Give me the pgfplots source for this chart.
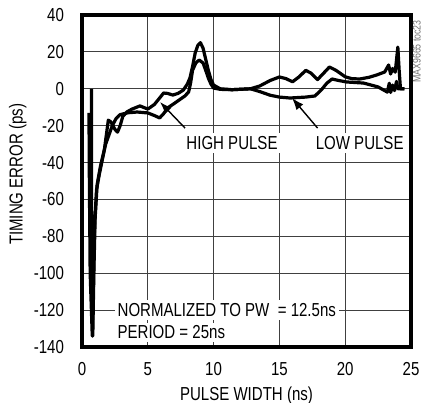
\documentclass[border=0pt]{standalone}
\usepackage{fontspec}
\setmainfont{Liberation Sans}[FakeStretch=0.8]
\usepackage{pgfplots}
\pgfplotsset{compat=1.18}
\usetikzlibrary{arrows.meta}

\begin{document}
\begin{tikzpicture}
\begin{axis}[
    scale only axis,
    width=164.5pt, height=166pt,
    xmin=0, xmax=25, ymin=-140, ymax=40,
    xtick={0,5,...,25},
    ytick={-140,-120,...,40},
    grid=major,
    grid style={black!75, line width=0.5pt},
    axis line style={line width=1.6pt},
    major tick length=0pt,
    /pgf/number format/assume math mode=true,
    tick label style={font=\fontsize{9.4}{11}\selectfont},
    xticklabel style={yshift=-4pt},
    yticklabel style={xshift=-5.5pt},
    label style={font=\fontsize{9.4}{11}\selectfont},
    xlabel={PULSE WIDTH (ns)},
    ylabel={TIMING ERROR (ps)},
    x label style={at={(axis description cs:0.5,-0.145)}, anchor=center},
    y label style={at={(axis description cs:-0.195,0.52)}, anchor=center},
    clip=false,
]
% curve with the higher peak near 9 ns
\addplot[black, line width=1.6pt, line join=round] coordinates {
    (0.53,-13) (0.56,-50) (0.62,-100) (0.78,-134) (0.86,-110) (0.95,-75)
    (1.1,-55) (1.3,-47) (1.5,-40) (1.7,-33) (1.85,-25) (2.0,-17)
    (2.2,-18) (2.5,-22) (2.7,-23.5) (2.9,-20) (3.1,-15) (3.4,-12.6)
    (3.8,-11) (4.4,-9.3) (5.0,-11) (5.5,-8.5) (5.9,-5) (6.2,-2.3)
    (6.5,-2.5) (6.9,-3.4) (7.3,-2.5) (7.7,-0.7) (8.0,2.5) (8.2,5.8)
    (8.4,12) (8.6,19.4) (8.8,23.5) (9.0,25) (9.2,22) (9.4,16) (9.6,10)
    (9.8,5) (10,2) (10.5,0) (11.4,-0.5) (12.8,0) (13.5,1.5) (14.3,4.5)
    (15,6.4) (15.5,5.5) (16,3.8) (16.5,6.5) (17,10) (17.4,8.5) (17.9,5)
    (18.3,8) (18.8,11.8) (19.3,10) (20,6.5) (20.5,5.5) (21.1,5.3)
    (21.8,6.2) (22.4,7.5) (23,9.1) (23.3,12.9) (23.45,8) (23.6,11)
    (23.8,9) (24,22.6) (24.1,10) (24.2,0) (24.5,0)
};
% curve with the lower peak near 9 ns
\addplot[black, line width=1.6pt, line join=round] coordinates {
    (0.72,0) (0.73,-60) (0.75,-100) (0.82,-134) (0.9,-100) (1.0,-70)
    (1.15,-52) (1.4,-42) (1.6,-36) (1.8,-30) (2.0,-26) (2.3,-20)
    (2.6,-16) (2.9,-14) (3.5,-13) (4.2,-12.6) (5.0,-13.1) (5.5,-14.5)
    (5.9,-15.8) (6.2,-13.5) (6.5,-10.4) (7.0,-8) (7.4,-6) (7.8,-4)
    (8.1,-1.8) (8.25,3) (8.4,10) (8.65,14) (8.9,15.6) (9.2,14) (9.4,10)
    (9.6,5.8) (9.8,2.5) (10,0.4) (10.5,-0.3) (11.4,-0.5) (12.8,0)
    (13.5,-1.5) (14.3,-3.5) (15,-4.5) (15.8,-5) (17,-4.5) (17.7,-3.9)
    (18.2,-0.5) (18.6,3) (19,5.3) (19.5,4.5) (20.1,3.7) (21.4,3.1)
    (22.5,1) (23.2,-1.8) (23.35,3) (23.45,-2) (23.6,2) (23.75,-1)
    (23.9,4) (24.0,0) (24.3,0) (24.5,0)
};

\draw[-{Latex[length=6pt,width=4.5pt]}, line width=0.7pt] (axis cs:7.83,-21.3) -- (axis cs:5.93,-7.2);
\draw[-{Latex[length=6pt,width=4.5pt]}, line width=0.7pt] (axis cs:17.9,-21.3) -- (axis cs:15.96,-5.0);

\node[fill=white, inner sep=1.5pt, font=\fontsize{9.4}{11}\selectfont] at (axis cs:11.4,-29.4) {HIGH PULSE};
\node[fill=white, inner sep=1.5pt, font=\fontsize{9.4}{11}\selectfont] at (axis cs:21.1,-29.4) {LOW PULSE};
\node[fill=white, inner sep=1.5pt, anchor=west, font=\fontsize{9.4}{11}\selectfont] at (axis cs:2.45,-120) {NORMALIZED TO PW~ = 12.5ns};
\node[fill=white, inner sep=1.5pt, anchor=west, font=\fontsize{9.4}{11}\selectfont] at (axis cs:2.45,-132) {PERIOD = 25ns};
\node[rotate=90, text=black!55, font=\fontsize{5.5}{6}\selectfont] at (axis description cs:1.018,0.89) {MAX9665 toc23};
\end{axis}
\pgfresetboundingbox
\path[use as bounding box] ([shift={(-41pt,-27.5pt)}]current axis.south west) rectangle ([shift={(5pt,7.5pt)}]current axis.north east);
\end{tikzpicture}
\end{document}
